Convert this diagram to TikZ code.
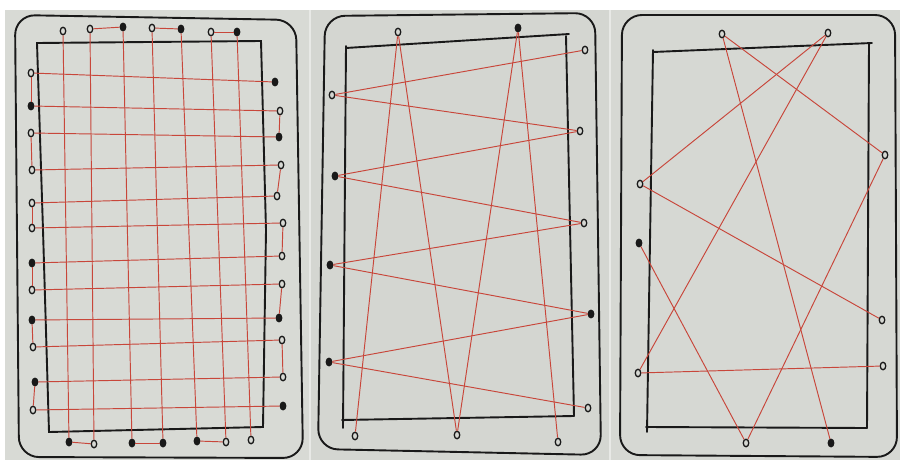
\documentclass[tikz,border=0pt]{standalone}
\usetikzlibrary{shapes.geometric}
\definecolor{paper}{RGB}{216,218,213}
\definecolor{seam}{RGB}{232,233,230}
\definecolor{thread}{RGB}{200,70,58}
\definecolor{ink}{RGB}{25,25,25}
\tikzset{
  hole/.style={ellipse, draw=ink, line width=1.3pt, minimum width=5.5pt, minimum height=7.5pt, inner sep=0pt},
  holef/.style={hole, fill=ink},
  string/.style={draw=thread, line width=0.95pt},
  frame/.style={draw=ink, line width=1.9pt, line join=round, line cap=round},
  inner/.style={draw=ink, line width=1.9pt, line cap=round, line join=miter}
}
\begin{document}
\begin{tikzpicture}[x=1pt,y=-1pt]
\useasboundingbox (0,0) rectangle (902,460);
\fill[white] (0,0) rectangle (902,460);
\fill[seam] (5,10) rectangle (900,460);
\fill[paper] (5,10) rectangle (308.5,460);
\fill[paper!98!black] (310.5,10) rectangle (608.5,460);
\fill[paper!99!black] (610.5,10) rectangle (900,460);

% ---------------- tile 1 ----------------
\draw[frame, rounded corners=20pt] (15,15) -- (296,20) -- (303,458) -- (19,457) -- cycle;
\draw[inner] (37,43) -- (261,41) -- (266,230) -- (263,427) -- (49,432) -- (43,230) -- cycle;
% top holes
\node[hole]  (aT1) at (63,31) {};
\node[hole]  (aT2) at (90,29) {};
\node[holef] (aT3) at (123,27) {};
\node[hole]  (aT4) at (152,28) {};
\node[holef] (aT5) at (181,29) {};
\node[hole]  (aT6) at (211,32) {};
\node[holef] (aT7) at (237,32) {};
% bottom holes
\node[holef] (aB1) at (69,442) {};
\node[hole]  (aB2) at (94,444) {};
\node[holef] (aB3) at (132,443) {};
\node[holef] (aB4) at (163,443) {};
\node[holef] (aB5) at (197,441) {};
\node[hole]  (aB6) at (226,442) {};
\node[hole]  (aB7) at (251,440) {};
% left holes
\node[hole]  (aL1) at (31,73) {};
\node[holef] (aL2) at (31,106) {};
\node[hole]  (aL3) at (31,133) {};
\node[hole]  (aL4) at (32,170) {};
\node[hole]  (aL5) at (32,203) {};
\node[hole]  (aL6) at (32,228) {};
\node[holef] (aL7) at (32,263) {};
\node[hole]  (aL8) at (32,290) {};
\node[holef] (aL9) at (32,320) {};
\node[hole]  (aL10) at (33,347) {};
\node[holef] (aL11) at (35,382) {};
\node[hole]  (aL12) at (33,410) {};
% right holes
\node[holef] (aR1) at (275,82) {};
\node[hole]  (aR2) at (280,111) {};
\node[holef] (aR3) at (279,137) {};
\node[hole]  (aR4) at (281,165) {};
\node[hole]  (aR5) at (277,196) {};
\node[hole]  (aR6) at (283,223) {};
\node[hole]  (aR7) at (282,256) {};
\node[hole]  (aR8) at (282,284) {};
\node[holef] (aR9) at (279,318) {};
\node[hole]  (aR10) at (282,340) {};
\node[hole]  (aR11) at (283,377) {};
\node[holef] (aR12) at (283,406) {};
% strings
\foreach \i in {1,...,7} { \draw[string] (aT\i) -- (aB\i); }
\foreach \i in {1,...,12} { \draw[string] (aL\i) -- (aR\i); }
\draw[string] (aT2) -- (aT3);
\draw[string] (aT4) -- (aT5);
\draw[string] (aT6) -- (aT7);
\draw[string] (aB1) -- (aB2);
\draw[string] (aB3) -- (aB4);
\draw[string] (aB5) -- (aB6);
\draw[string] (aL1) -- (aL2);
\draw[string] (aL3) -- (aL4);
\draw[string] (aL5) -- (aL6);
\draw[string] (aL7) -- (aL8);
\draw[string] (aL9) -- (aL10);
\draw[string] (aL11) -- (aL12);
\draw[string] (aR2) -- (aR3);
\draw[string] (aR4) -- (aR5);
\draw[string] (aR6) -- (aR7);
\draw[string] (aR8) -- (aR9);
\draw[string] (aR10) -- (aR11);

% ---------------- tile 2 ----------------
\draw[frame, rounded corners=20pt] (325,16) -- (595,13) -- (601,455) -- (318,449) -- cycle;
\draw[inner] (346,48) -- (569,34);
\draw[inner] (566,36) -- (574,416);
\draw[inner] (342,420) -- (574,416);
\draw[inner] (346,46) -- (343,428);
\node[hole]  (bT1) at (398,32) {};
\node[holef] (bT2) at (518,28) {};
\node[hole]  (bR1) at (585,50) {};
\node[hole]  (bR2) at (580,131) {};
\node[hole]  (bR3) at (584,223) {};
\node[holef] (bR4) at (591,314) {};
\node[hole]  (bR5) at (588,408) {};
\node[hole]  (bL1) at (332,95) {};
\node[holef] (bL2) at (335,176) {};
\node[holef] (bL3) at (330,265) {};
\node[holef] (bL4) at (329,362) {};
\node[hole]  (bB1) at (355,436) {};
\node[hole]  (bB2) at (457,435) {};
\node[hole]  (bB3) at (558,442) {};
\draw[string] (bR1) -- (bL1);
\draw[string] (bL1) -- (bR2);
\draw[string] (bR2) -- (bL2);
\draw[string] (bL2) -- (bR3);
\draw[string] (bR3) -- (bL3);
\draw[string] (bL3) -- (bR4);
\draw[string] (bR4) -- (bL4);
\draw[string] (bL4) -- (bR5);
\draw[string] (bB1) -- (bT1);
\draw[string] (bT1) -- (bB2);
\draw[string] (bB2) -- (bT2);
\draw[string] (bT2) -- (bB3);

% ---------------- tile 3 ----------------
\draw[frame, rounded corners=20pt] (622,15) -- (895,15) -- (897,457) -- (620,455) -- cycle;
\draw[inner] (653,52) -- (872,43);
\draw[inner] (869,43) -- (867,428);
\draw[inner] (646,427) -- (867,428);
\draw[inner] (653,50) -- (647,432);
\node[hole]  (cT1) at (722,34) {};
\node[hole]  (cT2) at (828,33) {};
\node[hole]  (cR1) at (885,155) {};
\node[hole]  (cL1) at (640,184) {};
\node[holef] (cL2) at (639,243) {};
\node[hole]  (cR2) at (882,320) {};
\node[hole]  (cR3) at (883,366) {};
\node[hole]  (cL3) at (638,373) {};
\node[hole]  (cB1) at (746,443) {};
\node[holef] (cB2) at (831,443) {};
\draw[string] (cL2) -- (cB1);
\draw[string] (cB1) -- (cR1);
\draw[string] (cR1) -- (cT1);
\draw[string] (cT1) -- (cB2);
\draw[string] (cR3) -- (cL3);
\draw[string] (cL3) -- (cT2);
\draw[string] (cT2) -- (cL1);
\draw[string] (cL1) -- (cR2);
\end{tikzpicture}
\end{document}
